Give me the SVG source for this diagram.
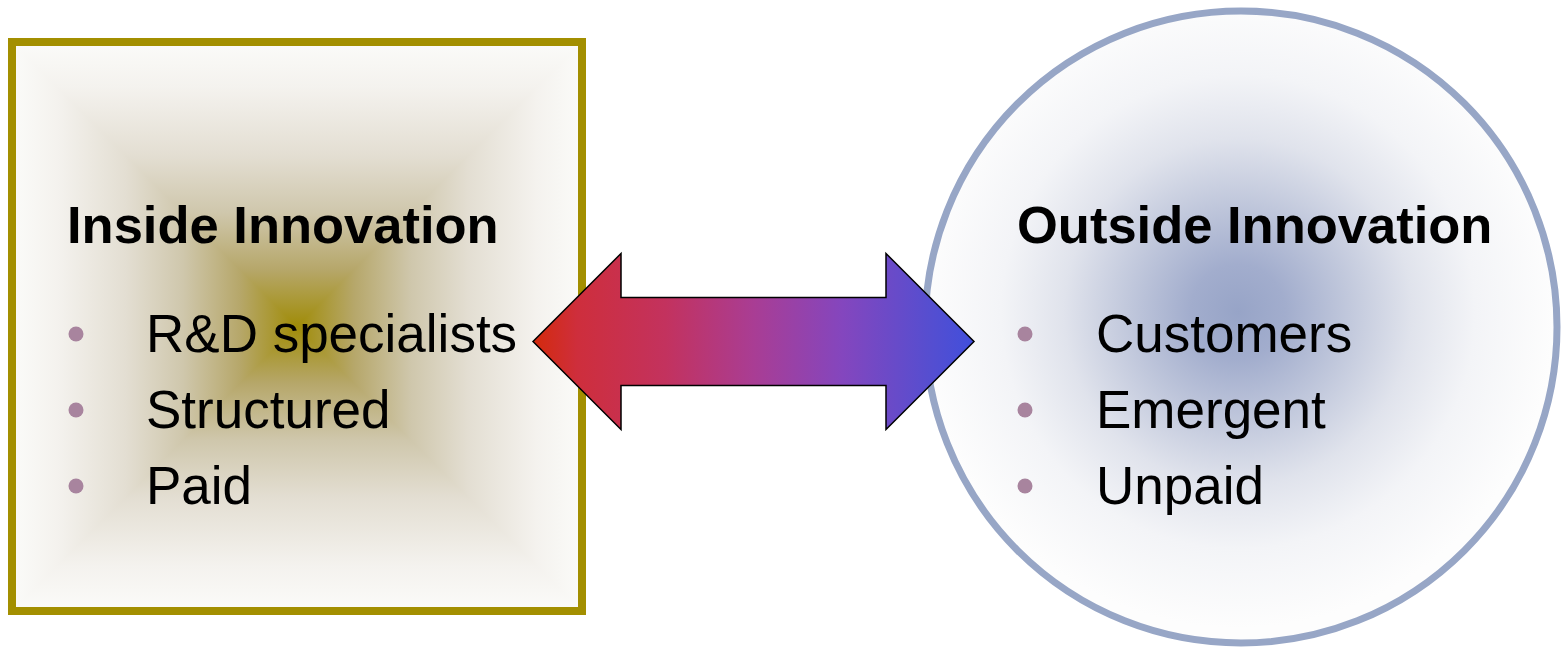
<svg xmlns="http://www.w3.org/2000/svg" width="1564" height="647" viewBox="0 0 1564 647">
  <style>
    .title { font-family: "Liberation Sans", Arial, sans-serif; font-weight: bold; font-size: 52.5px; fill: #000; }
    .item { font-family: "Liberation Sans", Arial, sans-serif; font-size: 53px; fill: #000; }
    .bullet { fill: #A8849E; }
  </style>
  <defs>
    <!-- rectangular "from centre" fill built from a vertical band plus side wedges -->
    <linearGradient id="boxV" gradientUnits="userSpaceOnUse" x1="0" y1="42" x2="0" y2="611">
      <stop offset="0" stop-color="#FBFBF9"/>
      <stop offset="0.08" stop-color="#F4F2EE"/>
      <stop offset="0.2" stop-color="#E3DED2"/>
      <stop offset="0.3" stop-color="#CFC7AC"/>
      <stop offset="0.4" stop-color="#B6A76A"/>
      <stop offset="0.5" stop-color="#A08C08"/>
      <stop offset="0.6" stop-color="#B6A76A"/>
      <stop offset="0.7" stop-color="#CFC7AC"/>
      <stop offset="0.8" stop-color="#E3DED2"/>
      <stop offset="0.92" stop-color="#F4F2EE"/>
      <stop offset="1" stop-color="#FBFBF9"/>
    </linearGradient>
    <linearGradient id="boxH" gradientUnits="userSpaceOnUse" x1="12" y1="0" x2="582" y2="0">
      <stop offset="0" stop-color="#FBFBF9"/>
      <stop offset="0.08" stop-color="#F4F2EE"/>
      <stop offset="0.2" stop-color="#E3DED2"/>
      <stop offset="0.3" stop-color="#CFC7AC"/>
      <stop offset="0.4" stop-color="#B6A76A"/>
      <stop offset="0.5" stop-color="#A08C08"/>
      <stop offset="0.6" stop-color="#B6A76A"/>
      <stop offset="0.7" stop-color="#CFC7AC"/>
      <stop offset="0.8" stop-color="#E3DED2"/>
      <stop offset="0.92" stop-color="#F4F2EE"/>
      <stop offset="1" stop-color="#FBFBF9"/>
    </linearGradient>
    <radialGradient id="circleFill" gradientUnits="userSpaceOnUse" cx="1238" cy="312" r="316">
      <stop offset="0" stop-color="#97A4C7"/>
      <stop offset="0.15" stop-color="#A2ADCD"/>
      <stop offset="0.35" stop-color="#C1C8DC"/>
      <stop offset="0.55" stop-color="#E0E3EC"/>
      <stop offset="0.75" stop-color="#F3F4F7"/>
      <stop offset="1" stop-color="#FDFDFD"/>
    </radialGradient>
    <linearGradient id="arrowFill" gradientUnits="userSpaceOnUse" x1="533" y1="0" x2="975" y2="0">
      <stop offset="0" stop-color="#D42A0C"/>
      <stop offset="0.1" stop-color="#CE2E3C"/>
      <stop offset="0.3" stop-color="#C3325E"/>
      <stop offset="0.5" stop-color="#A93D94"/>
      <stop offset="0.7" stop-color="#8446BE"/>
      <stop offset="0.9" stop-color="#554ED0"/>
      <stop offset="1" stop-color="#404FDC"/>
    </linearGradient>
  </defs>

  <!-- Inside Innovation box -->
  <g id="inside-innovation">
    <rect x="12" y="42" width="570" height="569" fill="url(#boxV)"/>
    <polygon points="12,42 297,326.5 12,611" fill="url(#boxH)"/>
    <polygon points="582,42 297,326.5 582,611" fill="url(#boxH)"/>
    <rect x="12" y="42" width="570" height="569" fill="none" stroke="#A38F00" stroke-width="8"/>
    <text class="title" x="67" y="243">Inside Innovation</text>
    <circle class="bullet" cx="76" cy="334" r="7.5"/>
    <circle class="bullet" cx="76" cy="410" r="7.5"/>
    <circle class="bullet" cx="76" cy="486" r="7.5"/>
    <text class="item" x="146" y="352">R&amp;D specialists</text>
    <text class="item" x="146" y="428">Structured</text>
    <text class="item" x="146" y="504">Paid</text>
  </g>

  <!-- Outside Innovation circle -->
  <g id="outside-innovation">
    <circle cx="1241" cy="327" r="316" fill="url(#circleFill)" stroke="#97A6C6" stroke-width="7"/>
    <text class="title" x="1017" y="243">Outside Innovation</text>
    <circle class="bullet" cx="1025" cy="334" r="7.5"/>
    <circle class="bullet" cx="1025" cy="410" r="7.5"/>
    <circle class="bullet" cx="1025" cy="486" r="7.5"/>
    <text class="item" x="1096" y="352">Customers</text>
    <text class="item" x="1096" y="428">Emergent</text>
    <text class="item" x="1096" y="504">Unpaid</text>
  </g>

  <!-- two-way arrow between the two sides -->
  <g id="connectors">
    <polygon points="533,341.5 621,253.5 621,297.5 886,297.5 886,253.5 974,341.5 886,429.5 886,385.5 621,385.5 621,429.5"
             fill="url(#arrowFill)" stroke="#000" stroke-width="1.5" stroke-linejoin="miter"/>
  </g>
</svg>
